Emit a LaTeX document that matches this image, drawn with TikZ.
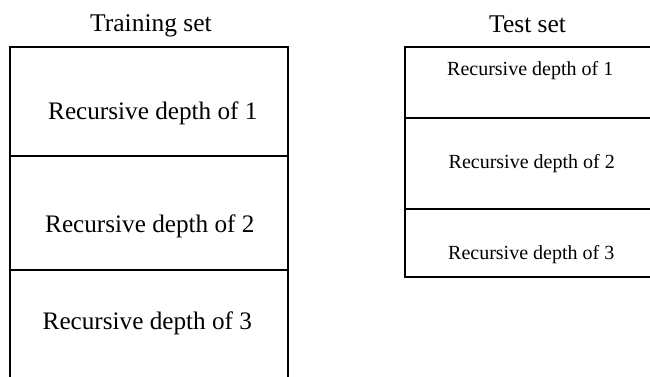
\documentclass[tikz,border=0pt]{standalone}
\usepackage{fontspec}
\setmainfont{Liberation Serif}
\begin{document}
\begin{tikzpicture}[x=1pt,y=-1pt,
  rule/.style={line width=1.3pt,black},
  label/.style={inner sep=0pt,anchor=base west},
  title/.style={label,font=\fontsize{25.5}{28}\selectfont},
  bigcell/.style={label,font=\fontsize{25.2}{28}\selectfont},
  smallcell/.style={label,font=\fontsize{20}{23}\selectfont}]
\useasboundingbox (0,0) rectangle (650,377);

% headings
\node[title] (trainT) at (90,32) {Training set};
\node[title] (testT)  at (489,32.7) {Test set};

% training set column (open at the bottom)
\draw[rule] (10,377) -- (10,47) -- (288,47) -- (288,377);
\draw[rule] (10,156) -- (288,156);
\draw[rule] (10,270) -- (288,270);
\node[bigcell] (tr1) at (48,120) {Recursive depth of 1};
\node[bigcell] (tr2) at (45,232.5) {Recursive depth of 2};
\node[bigcell] (tr3) at (42.5,329) {Recursive depth of 3};

% test set column (open on the right)
\draw[rule] (650,47) -- (405,47) -- (405,277) -- (650,277);
\draw[rule] (405,118) -- (650,118);
\draw[rule] (405,209) -- (650,209);
\node[smallcell] (te1) at (447,76) {Recursive depth of 1};
\node[smallcell] (te2) at (448.5,168) {Recursive depth of 2};
\node[smallcell] (te3) at (448,259) {Recursive depth of 3};
\end{tikzpicture}
\end{document}
